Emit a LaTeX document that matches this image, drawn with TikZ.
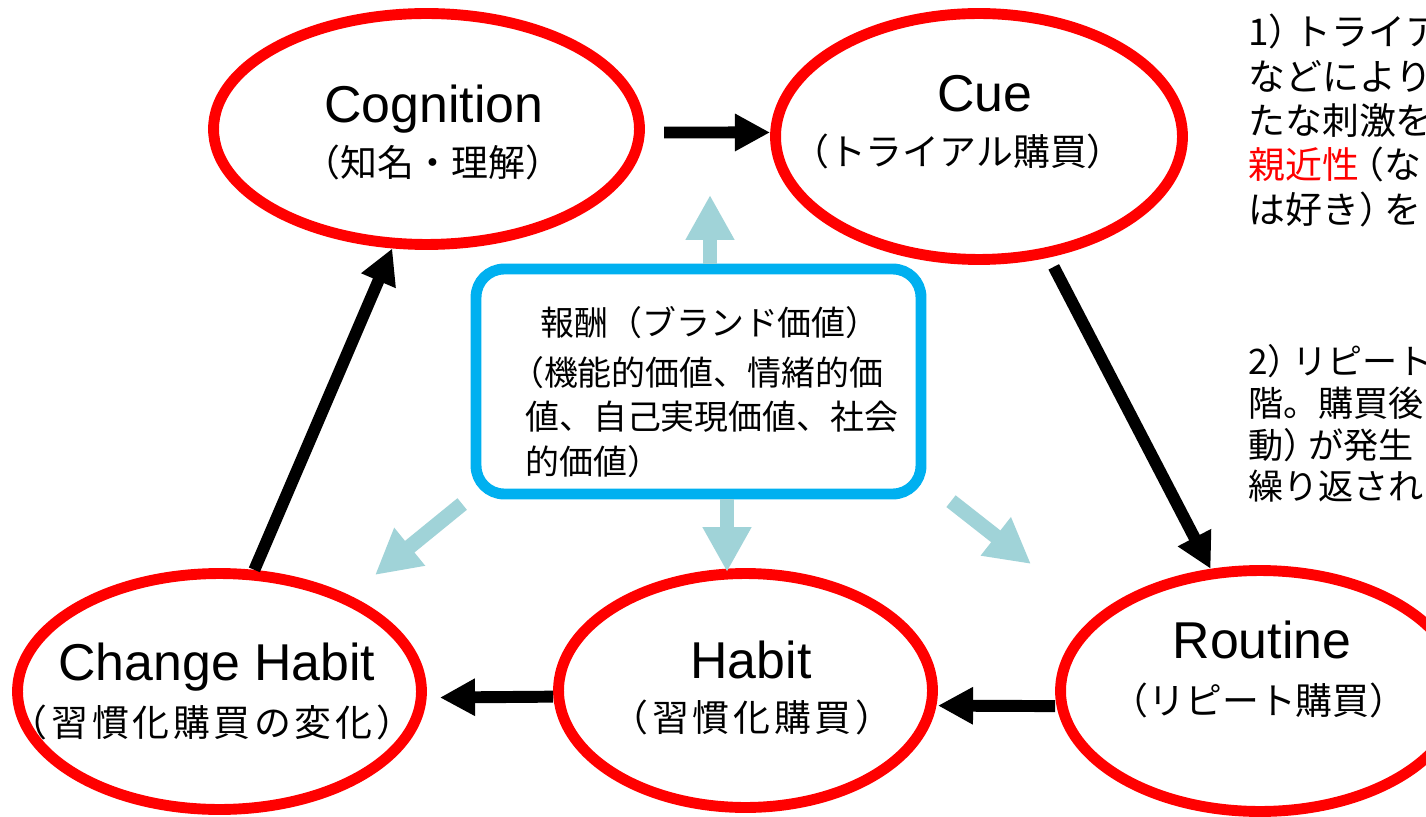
\documentclass[tikz,border=0pt]{standalone}
\usepackage{fontspec}
\setmainfont{Liberation Sans}
\newfontfamily\jpfont{Noto Sans CJK JP}
\newfontfamily\jpwide{Noto Sans CJK JP}[LetterSpace=10]
\usepackage{tikz}
\usetikzlibrary{arrows.meta,shapes.geometric}

\definecolor{ringred}{RGB}{255,0,0}
\definecolor{boxblue}{RGB}{0,176,240}
\definecolor{paleteal}{RGB}{160,211,216}

\begin{document}
\begin{tikzpicture}[x=0.02cm, y=-0.02cm,
  stage/.style={ellipse, draw=ringred, line width=6.2pt, inner sep=0pt},
  engtxt/.style={font=\fontsize{29.5pt}{34pt}\selectfont, anchor=base, inner sep=0pt},
  subtxt/.style={font=\jpfont\fontsize{21pt}{25pt}\selectfont, anchor=base, inner sep=0pt},
  subwide/.style={font=\jpwide\fontsize{21pt}{25pt}\selectfont, anchor=base, inner sep=0pt},
  boxtxt/.style={font=\jpfont\fontsize{19.3pt}{25.5pt}\selectfont, align=left,
                 anchor=north west, inner sep=0pt},
  sidenote/.style={font=\jpfont\fontsize{21pt}{25.2pt}\selectfont, align=left,
                   anchor=north west, inner sep=0pt},
  flowarrow/.style={-{Triangle[width=20pt, length=20pt]}, line width=6.8pt},
  rewardarrow/.style={-{Triangle[width=26pt, length=25.5pt]}, line width=8.5pt,
                      color=paleteal}]

  \useasboundingbox (0,0) rectangle (1426,817);
  \fill[white] (0,0) rectangle (1426,817);
  \clip (0,0) rectangle (1426,817);

  % the five stages
  \node[stage, minimum width=8.52cm, minimum height=4.62cm] (cog)  at (426.5,129)   {};
  \node[stage, minimum width=8.14cm, minimum height=4.92cm] (cue)  at (979,136.5)   {};
  \node[stage, minimum width=7.98cm, minimum height=4.82cm] (rout) at (1260,691)    {};
  \node[stage, minimum width=7.48cm, minimum height=4.68cm] (hab)  at (745.5,690.5) {};
  \node[stage, minimum width=8.08cm, minimum height=4.72cm] (chg)  at (219.5,691.5) {};

  \node[engtxt]  (cogT) at (434,123)  {Cognition};
  \node[subtxt]  (cogS) at (433,177)  {（知名・理解）};
  \node[engtxt]  (cueT) at (985,112)  {Cue};
  \node[subtxt]  (cueS) at (958,166)  {（トライアル購買）};
  \node[engtxt]  (rouT) at (1262,658) {Routine};
  \node[subtxt]  (rouS) at (1259,714) {（リピート購買）};
  \node[engtxt]  (habT) at (751,678)  {Habit};
  \node[subwide] (habS) at (752,731)  {（習慣化購買）};
  \node[engtxt]  (chgT) at (217,680)  {Change Habit};
  \node[subwide] (chgS) at (212,736)  {（習慣化購買の変化）};

  % the cycle
  \draw[flowarrow, shorten <=11pt] ([yshift=-2pt]cog.east) -- ([yshift=2.3pt]cue.west);
  \draw[flowarrow, shorten <=6pt] (cue.-60) -- (rout.112);
  \draw[flowarrow] ([yshift=-8.6pt]rout.west) -- ([yshift=-8.6pt]hab.east);
  \draw[flowarrow, shorten >=7.4pt] ([yshift=-3.5pt]hab.west) -- ([yshift=-3.5pt]chg.east);
  \draw[flowarrow] (chg.74) -- (cog.254);

  % reward box in the middle
  \node[draw=boxblue, line width=6.2pt, rounded corners=16pt,
        minimum width=8.9cm, minimum height=4.5cm] (box) at (698.5,381.5) {};
  \node[boxtxt] (boxT) at (525,306)
    {\hspace{0.45em}報酬（ブランド価値）\\[2.8pt]\kern-0.45em（機能的価値、情緒的価\\値、自己実現価値、社会\\的価値）};

  \coordinate (upTip) at (710,195);
  \coordinate (dnTip) at (727,572);
  \coordinate (swTip) at (375,575);
  \coordinate (seTip) at (1031,564);
  \draw[rewardarrow] (box.north -| upTip) -- (upTip);
  \draw[rewardarrow] (box.south -| dnTip) -- (dnTip);
  \draw[rewardarrow] ([shift={(-4.8pt,-2.6pt)}]box.south west) -- (swTip);
  \draw[rewardarrow] ([shift={(14pt,-1pt)}]box.south east) -- (seTip);

  % notes on the right, cut by the page edge
  \node[sidenote] (noteA) at (1248,14)
    {1）\kern-0.3emトライア\\などにより\\たな刺激を\\{\color{ringred}親近性}\kern-0.3em（な\\は好き）\kern-0.3emを};
  \node[sidenote, font=\jpfont\fontsize{20pt}{23.8pt}\selectfont] (noteB) at (1248,344)
    {2）\kern-0.3emリピート\\階。購買後\\動）\kern-0.3emが発生\\繰り返され};
\end{tikzpicture}
\end{document}
